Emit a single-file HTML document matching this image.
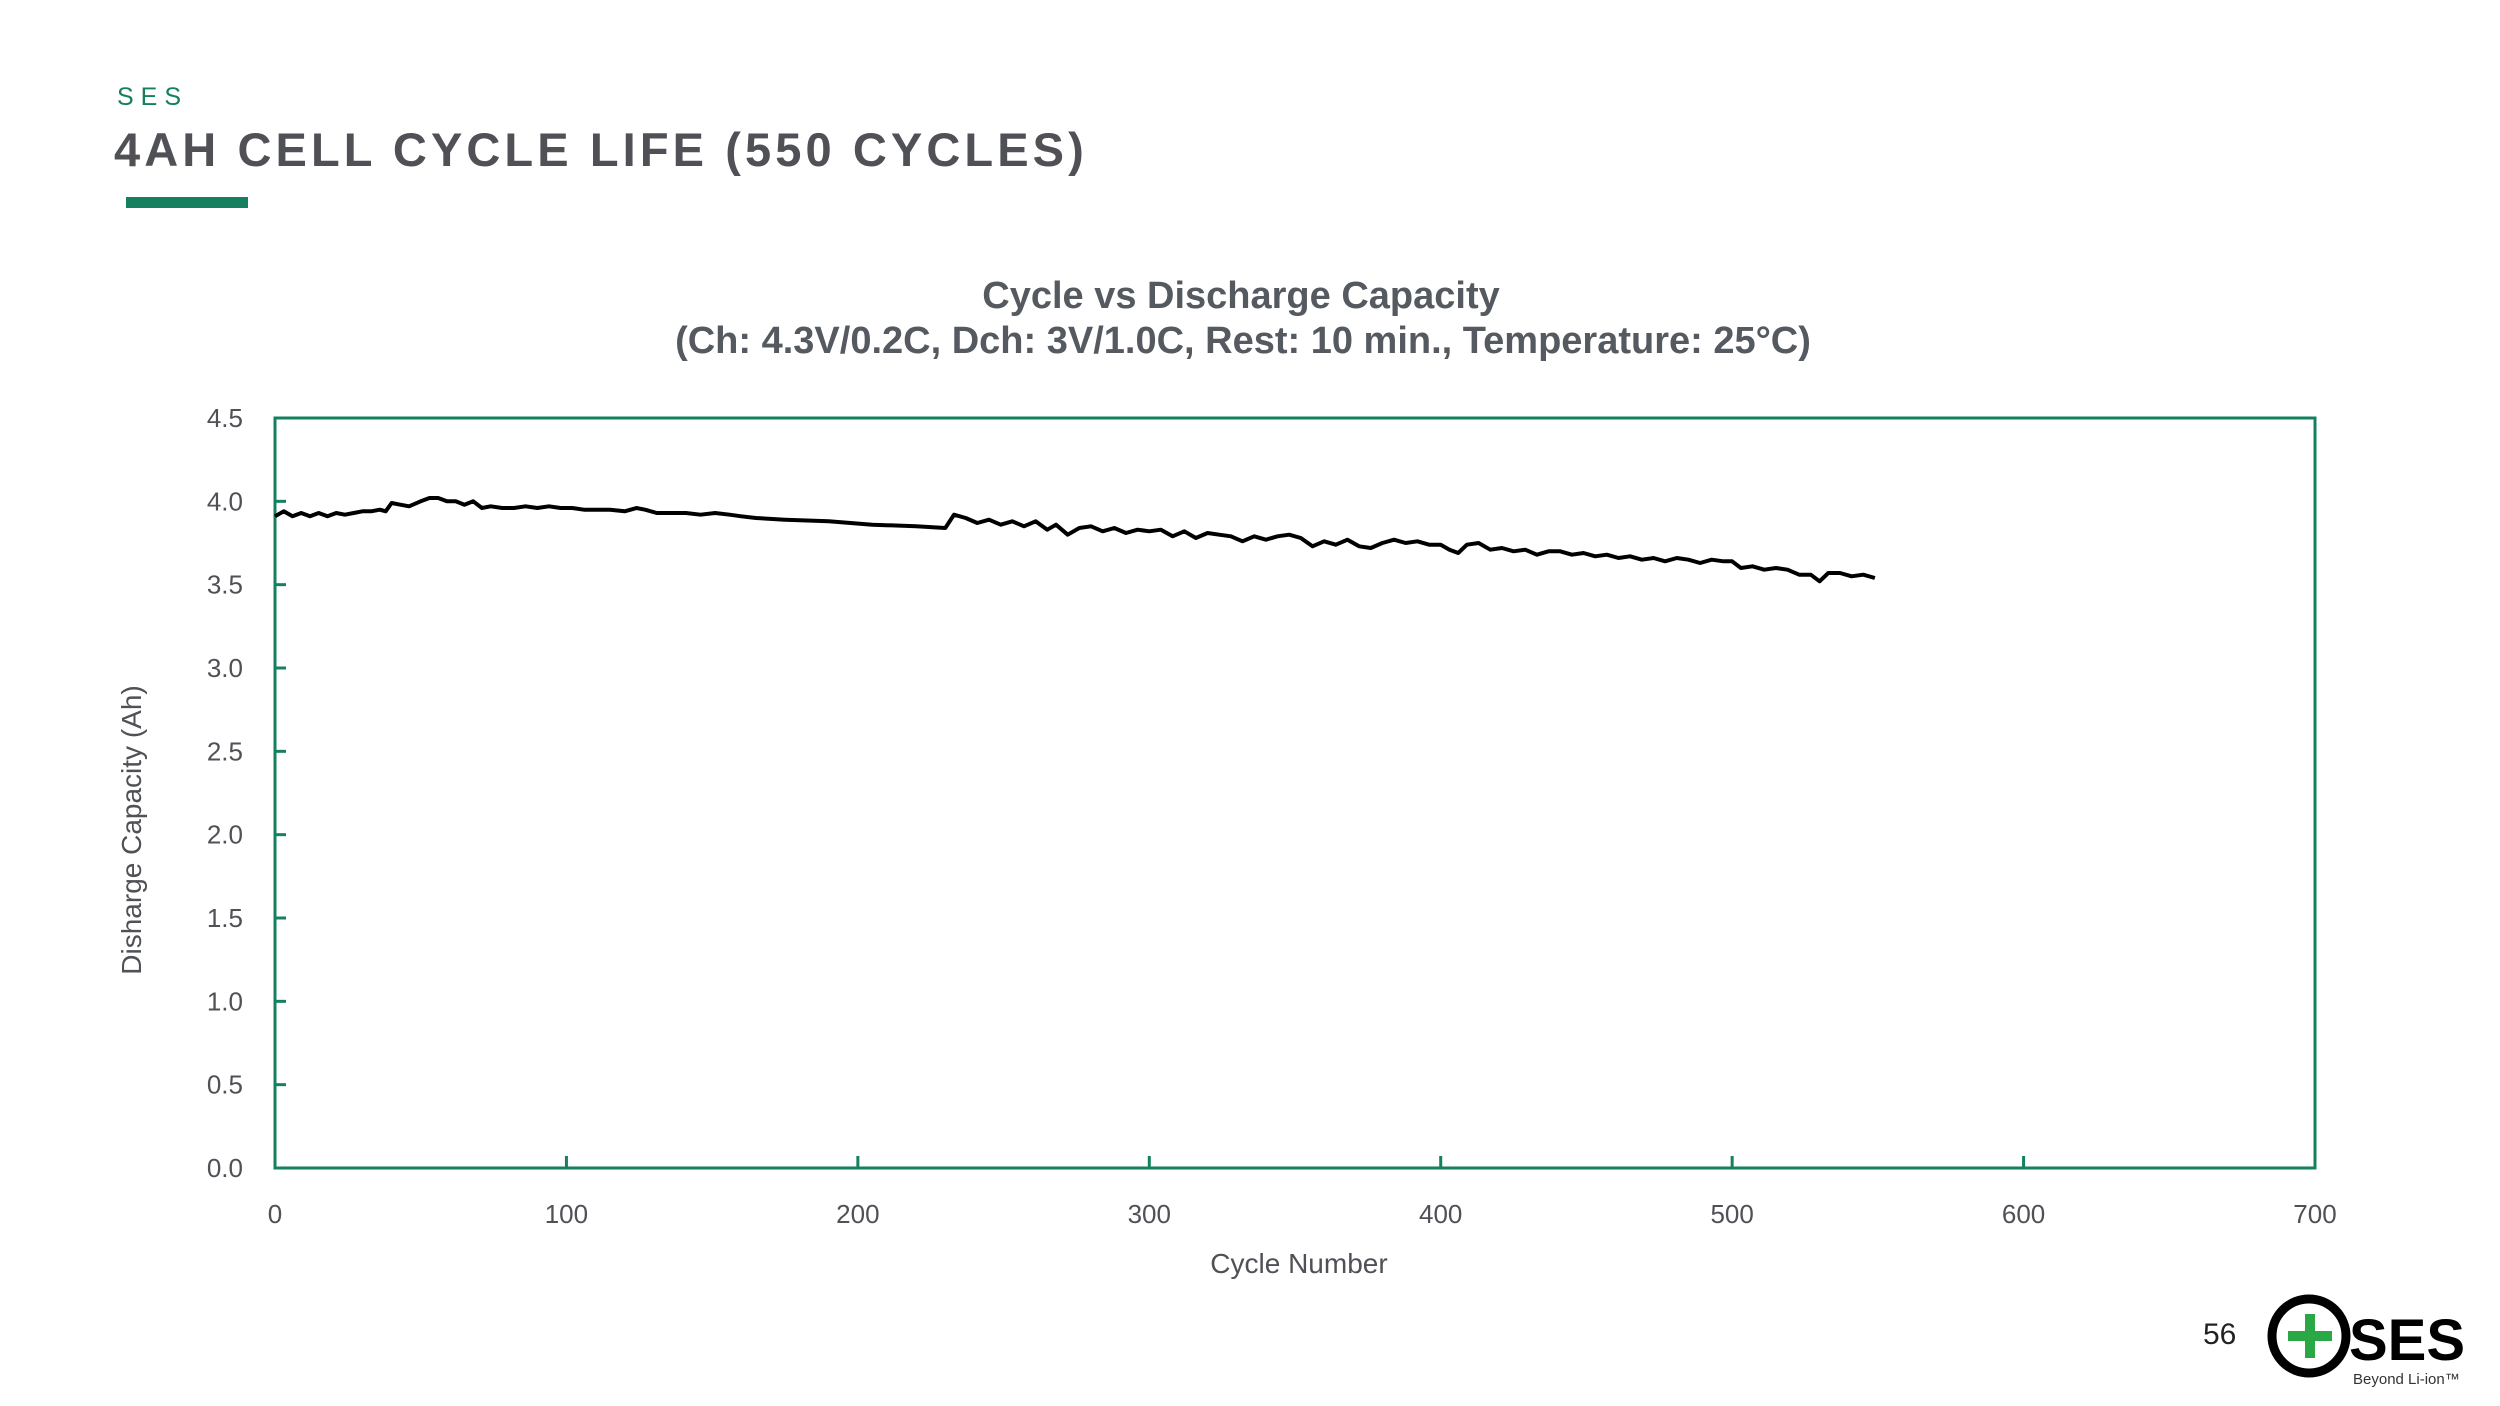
<!DOCTYPE html>
<html><head><meta charset="utf-8">
<style>
html,body{margin:0;padding:0;background:#fff;}
body{width:2500px;height:1406px;position:relative;overflow:hidden;font-family:"Liberation Sans",sans-serif;}
.abs{position:absolute;}
</style></head>
<body>
<div class="abs" style="left:117px;top:83px;font-size:25px;letter-spacing:7px;color:#148060;">SES</div>
<div class="abs" style="left:114px;top:122px;font-size:47px;font-weight:bold;letter-spacing:4.1px;color:#4f5157;">4AH CELL CYCLE LIFE (550 CYCLES)</div>
<div class="abs" style="left:126px;top:197px;width:122px;height:11px;background:#148060;"></div>

<svg class="abs" style="left:0;top:0" width="2500" height="1406">
<g id="chart"></g>
</svg>

<div class="abs" style="left:2203px;top:1318px;font-size:30px;color:#222;">56</div>
<svg class="abs" style="left:2262px;top:1288px" width="238" height="110">
<circle cx="47" cy="48" r="37" fill="none" stroke="#000" stroke-width="9"/>
<rect x="26" y="43" width="44" height="10" fill="#2aa845"/>
<rect x="43" y="26" width="10" height="44" fill="#2aa845"/>
<text x="87" y="72" font-family="Liberation Sans" font-weight="bold" font-size="58" fill="#000">SES</text>
<text x="91" y="96" font-family="Liberation Sans" font-size="15" fill="#333">Beyond Li-ion™</text>
</svg>

<script>
const cycles=[0,3,6,9,12,15,18,21,24,27,30,33,36,38,40,43,46,50,53,56,59,62,65,68,71,74,78,82,86,90,94,98,102,106,110,115,120,124,127,131,136,141,146,151,156,160,165,175,190,205,220,230,233,237,241,245,249,253,257,261,265,268,272,276,280,284,288,292,296,300,304,308,312,316,320,324,328,332,336,340,344,348,352,356,360,364,368,372,376,380,384,388,392,396,400,403,406,409,413,417,421,425,429,433,437,441,445,449,453,457,461,465,469,473,477,481,485,489,493,497,500,503,507,511,515,519,523,527,530,533,537,541,545,549];
const capacity=[3.91,3.94,3.91,3.93,3.91,3.93,3.91,3.93,3.92,3.93,3.94,3.94,3.95,3.94,3.99,3.98,3.97,4.00,4.02,4.02,4.00,4.00,3.98,4.00,3.96,3.97,3.96,3.96,3.97,3.96,3.97,3.96,3.96,3.95,3.95,3.95,3.94,3.96,3.95,3.93,3.93,3.93,3.92,3.93,3.92,3.91,3.90,3.89,3.88,3.86,3.85,3.84,3.92,3.90,3.87,3.89,3.86,3.88,3.85,3.88,3.83,3.86,3.80,3.84,3.85,3.82,3.84,3.81,3.83,3.82,3.83,3.79,3.82,3.78,3.81,3.80,3.79,3.76,3.79,3.77,3.79,3.80,3.78,3.73,3.76,3.74,3.77,3.73,3.72,3.75,3.77,3.75,3.76,3.74,3.74,3.71,3.69,3.74,3.75,3.71,3.72,3.70,3.71,3.68,3.70,3.70,3.68,3.69,3.67,3.68,3.66,3.67,3.65,3.66,3.64,3.66,3.65,3.63,3.65,3.64,3.64,3.60,3.61,3.59,3.60,3.59,3.56,3.56,3.52,3.57,3.57,3.55,3.56,3.54];
const yTicks=[0,0.5,1,1.5,2,2.5,3,3.5,4,4.5];
const yLabels=["0.0","0.5","1.0","1.5","2.0","2.5","3.0","3.5","4.0","4.5"];
const xTicks=[0,100,200,300,400,500,600,700];
const xLabels=["0","100","200","300","400","500","600","700"];

const L=275,R=2315,T=418,B=1168;
const xs=v=>L+(v-0)/(700-0)*(R-L);
const ys=v=>B-(v-0)/(4.5-0)*(B-T);
const NS="http://www.w3.org/2000/svg";
const g=document.getElementById('chart');
function mk(tag,attrs){const e=document.createElementNS(NS,tag);for(const k in attrs)e.setAttribute(k,attrs[k]);g.appendChild(e);return e;}

let t=mk('text',{x:1241,y:308,'text-anchor':'middle','font-size':'38','font-weight':'bold',fill:'#555a60','font-family':'Liberation Sans'});
t.textContent='Cycle vs Discharge Capacity';


t=mk('text',{x:1243,y:353,'text-anchor':'middle','font-size':'38','font-weight':'bold',fill:'#555a60','font-family':'Liberation Sans'});
t.textContent='(Ch: 4.3V/0.2C, Dch: 3V/1.0C, Rest: 10 min., Temperature: 25°C)';



let fr=mk('rect',{x:L,y:T,width:R-L,height:B-T,fill:'none',stroke:'#148060','stroke-width':3});



yTicks.forEach((v,i)=>{
 let tk=mk('line',{x1:L,x2:L+11,y1:ys(v),y2:ys(v),stroke:'#148060','stroke-width':3});
 
 
 let lb=mk('text',{x:243,y:ys(v)+9,'text-anchor':'end','font-size':'26',fill:'#4f5157','font-family':'Liberation Sans'});
 lb.textContent=yLabels[i];
 
 
});
xTicks.forEach((v,i)=>{
 let tk=mk('line',{x1:xs(v),x2:xs(v),y1:B,y2:B-12,stroke:'#148060','stroke-width':3});
 
 
 let lb=mk('text',{x:xs(v),y:1223,'text-anchor':'middle','font-size':'26',fill:'#4f5157','font-family':'Liberation Sans'});
 lb.textContent=xLabels[i];
 
 
});
t=mk('text',{x:1299,y:1273,'text-anchor':'middle','font-size':'28',fill:'#4f5157','font-family':'Liberation Sans'});
t.textContent='Cycle Number';


t=mk('text',{x:0,y:0,'text-anchor':'middle','font-size':'28',fill:'#4f5157','font-family':'Liberation Sans',transform:'translate(141,830) rotate(-90)'});
t.textContent='Disharge Capacity (Ah)';



let d=cycles.map((c,i)=>(i?'L':'M')+xs(c).toFixed(1)+','+ys(capacity[i]).toFixed(1)).join(' ');
let p=mk('path',{d:d,fill:'none',stroke:'#000','stroke-width':4,'stroke-linejoin':'round'});


</script>
</body></html>
